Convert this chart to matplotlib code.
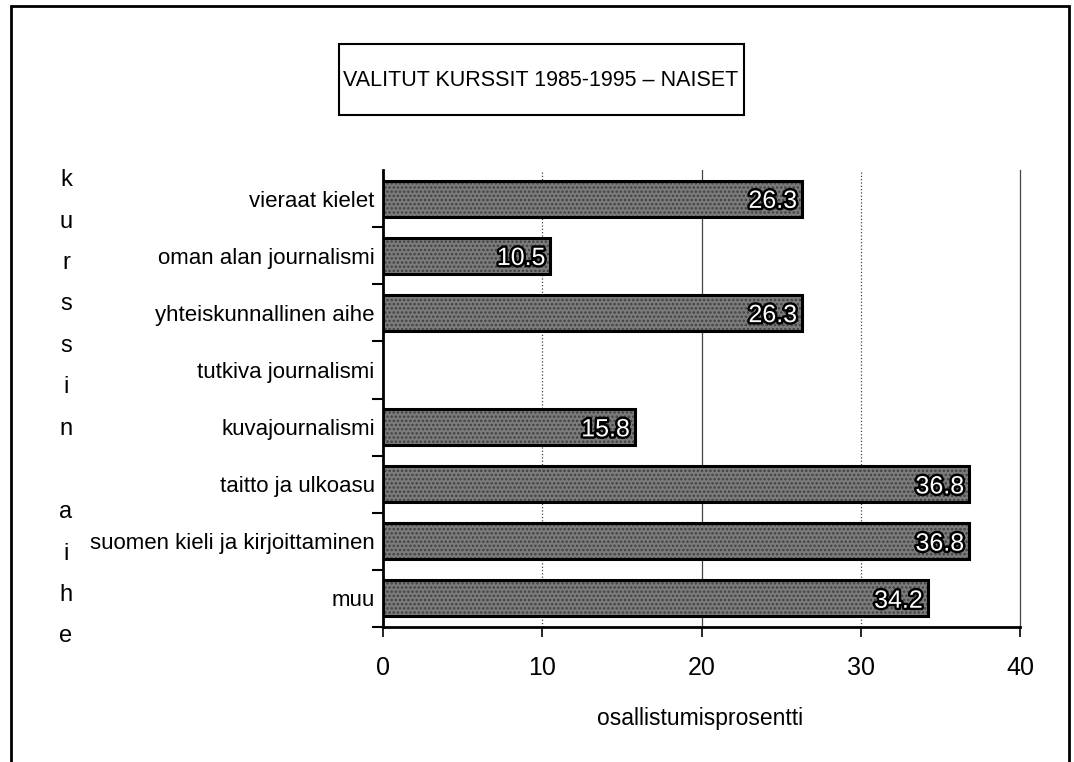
import matplotlib
matplotlib.use("Agg")
import matplotlib.pyplot as plt
import matplotlib.patheffects as pe
from matplotlib.patches import Rectangle
import numpy as np

categories = [
    "vieraat kielet",
    "oman alan journalismi",
    "yhteiskunnallinen aihe",
    "tutkiva journalismi",
    "kuvajournalismi",
    "taitto ja ulkoasu",
    "suomen kieli ja kirjoittaminen",
    "muu",
]
values = [26.3, 10.5, 26.3, 0.0, 15.8, 36.8, 36.8, 34.2]
xticks = [0, 10, 20, 30, 40]

title = "VALITUT KURSSIT 1985-1995 \u2013 NAISET"
xlabel = "osallistumisprosentti"
ylabel = "kurssin aihe"

plt.rcParams["font.family"] = ["Liberation Sans", "DejaVu Sans"]
plt.rcParams["hatch.linewidth"] = 1.2

fig = plt.figure(figsize=(10.74, 7.62), dpi=100)
ax = fig.add_axes([383 / 1074, 1 - 627 / 762, (1020 - 383) / 1074, (627 - 170) / 762])

n = len(categories)
ypos = np.arange(n)[::-1]

# grid lines
for x in xticks[1:]:
    style = "-" if x % 20 == 0 else ":"
    ax.axvline(x, color="#444444", lw=0.9, ls=style, zorder=0, clip_on=False)

vals = np.array(values)
mask = vals > 0
ax.barh(ypos[mask], vals[mask], height=0.63, color="#7c7c7c", hatch="....",
        edgecolor="#404040", lw=0, zorder=2)
ax.barh(ypos[mask], vals[mask], height=0.63, fill=False,
        edgecolor="black", lw=2.2, zorder=3)

for y, v in zip(ypos, values):
    if v <= 0:
        continue
    ax.text(v - 0.3, y - 0.04, f"{v:.1f}", ha="right", va="center",
            color="white", fontsize=18, zorder=4,
            path_effects=[pe.withStroke(linewidth=3.5, foreground="black")])

ax.set_xlim(0, 40)
ax.set_ylim(-0.5, n - 0.5)
ax.set_xticks(xticks)
ax.set_xticklabels([str(x) for x in xticks], fontsize=18)
ax.tick_params(axis="x", length=7, width=1.2, pad=14)

ax.set_yticks(np.arange(-0.5, n - 1, 1))
ax.set_yticklabels([])
ax.tick_params(axis="y", which="major", length=8, width=1.5)
ax.set_yticks(ypos, minor=True)
ax.set_yticklabels(categories, minor=True, fontsize=16)
ax.tick_params(axis="y", which="minor", length=0, pad=6)

for s in ["top", "right"]:
    ax.spines[s].set_visible(False)
ax.spines["left"].set_linewidth(2)
ax.spines["bottom"].set_linewidth(2)

fig.text(700 / 1074, 1 - 718 / 762, xlabel, ha="center", va="center", fontsize=16.5)

# vertical stacked y label
y0, step = 180, 41.5
for i, ch in enumerate(ylabel):
    if ch == " ":
        continue
    fig.text(66 / 1074, 1 - (y0 + i * step) / 762, ch, ha="center", va="center", fontsize=17)

# title box
fig.patches.append(Rectangle((339 / 1074, 1 - 115 / 762), 405 / 1074, 71 / 762,
                             transform=fig.transFigure, fill=False, lw=1.5, ec="black"))
fig.text(541 / 1074, 1 - 80 / 762, title, ha="center", va="center", fontsize=15.5)

# outer frame
fig.patches.append(Rectangle((11 / 1074, -0.05), (1069 - 11) / 1074, 1 - 6 / 762 + 0.05,
                             transform=fig.transFigure, fill=False, lw=2, ec="black",
                             clip_on=False))

fig.savefig("out.png", dpi=100)
